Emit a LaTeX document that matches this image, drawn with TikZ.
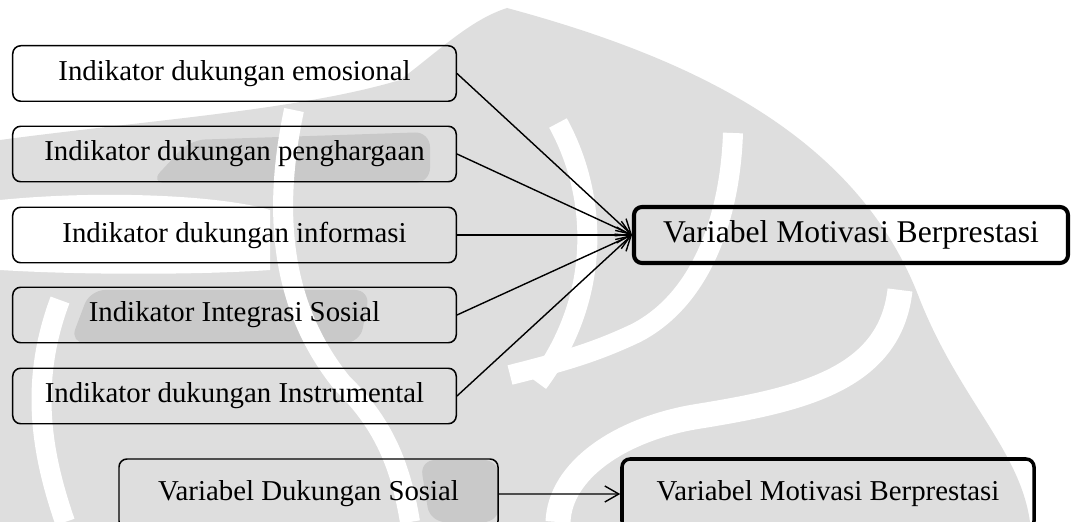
\documentclass[tikz,border=0pt]{standalone}
\usepackage{fontspec}
\setmainfont{Liberation Serif}
\usetikzlibrary{arrows.meta}
\definecolor{wmlight}{gray}{0.87}
\definecolor{wmdark}{gray}{0.79}

\begin{document}
\begin{tikzpicture}[scale=0.2,
  indbox/.style={draw=black, line width=0.85pt, rounded corners=0.16cm, minimum width=8.87cm, minimum height=1.11cm, inner sep=0pt, font=\fontsize{16.4}{19}\selectfont},
  varbox/.style={indbox, line width=2.3pt},
  link/.style={black, line width=0.8pt, -{Straight Barb[length=2.8mm,width=3.2mm]}},
  wmstripe/.style={white, line width=0.4cm}]
\useasboundingbox (0,0) rectangle (107.2,-52.2);
\fill [wmlight] (50.7,-0.8) .. controls (70,-6) and (86,-14) .. (92,-30) .. controls (96,-40) and (102,-45) .. (103,-52.2) -- (0,-52.2) -- (0,-14) .. controls (15,-12) and (30,-11) .. (40,-8) .. controls (44,-5) and (47,-2) .. (50.7,-0.8);
\fill [wmdark, rounded corners=0.3cm] (15,-18.3) -- (19,-14) -- (43,-13.2) -- (43,-18.3) -- cycle;
\fill [wmdark, rounded corners=0.3cm] (7,-34.3) -- (9,-29) -- (37,-29) -- (36,-34.3) -- cycle;
\fill [wmdark, rounded corners=0.3cm] (42,-46) -- (49.9,-46) -- (49.9,-52.2) -- (43,-52.2) -- cycle;
\fill [white] (0,-20) .. controls (10,-19) and (22,-19.5) .. (27,-21) -- (27,-27) .. controls (20,-27.5) and (8,-27.5) .. (0,-27) -- cycle;
\draw [wmstripe] (29.4,-11) .. controls (27.5,-20) and (27.5,-30) .. (34.2,-38.3) .. controls (38,-42) and (40,-46) .. (41,-52.2);
\draw [wmstripe] (6,-30) .. controls (3,-38) and (4,-45) .. (6.5,-52.2);
\draw [wmstripe] (55.8,-12.3) .. controls (60,-20) and (60,-30) .. (53.8,-38.3);
\draw [wmstripe] (73.3,-13.3) .. controls (73,-22) and (70,-30) .. (63.6,-33.3) .. controls (60,-35) and (57,-36) .. (51,-37.5);
\draw [wmstripe, line width=0.5cm] (90,-29) .. controls (89,-38) and (80,-40) .. (69.4,-41.7) .. controls (62,-43) and (56,-47) .. (55.8,-52.2);
\node [indbox] (emosi) at (23.45,-7.35) {Indikator dukungan emosional};
\node [indbox] (harga) at (23.45,-15.4) {Indikator dukungan penghargaan};
\node [indbox] (info) at (23.45,-23.5) {Indikator dukungan informasi};
\node [indbox] (integ) at (23.45,-31.5) {Indikator Integrasi Sosial};
\node [indbox] (instr) at (23.45,-39.6) {Indikator dukungan Instrumental};
\node [varbox, minimum width=8.68cm, minimum height=1.12cm, font=\fontsize{18}{21}\selectfont] (motiv) at (85.1,-23.5) {Variabel Motivasi Berprestasi};
\node [indbox, minimum width=7.58cm, minimum height=1.4cm] (sosial) at (30.85,-49.4) {Variabel Dukungan Sosial};
\node [varbox, line width=2pt, minimum width=8.24cm, minimum height=1.4cm] (motivb) at (82.8,-49.4) {Variabel Motivasi Berprestasi};
\foreach \s in {emosi,harga,info,integ,instr}
  \draw [link] (\s.east) -- (motiv.west);
\draw [link] (sosial) -- (motivb);
\end{tikzpicture}
\end{document}
